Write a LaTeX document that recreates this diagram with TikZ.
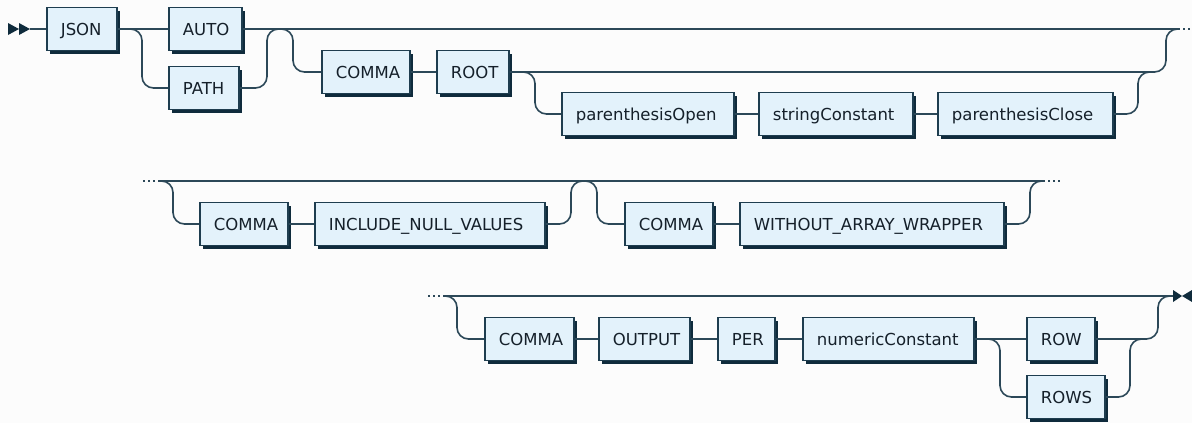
\documentclass[tikz,border=0pt]{standalone}
\usepackage{fontspec}
\setmainfont{DejaVu Sans}
\usetikzlibrary{shadows}
\definecolor{boxfill}{HTML}{E3F2FB}
\definecolor{boxline}{HTML}{1E3D4F}
\definecolor{shade}{HTML}{0F2B3C}
\definecolor{wirec}{HTML}{2C4858}
\definecolor{ink}{HTML}{15202A}
\definecolor{paper}{HTML}{FCFCFC}
% terminal box: #1 name, #2 left x, #3 centre y, #4 width, #5 label
\newcommand\termbox[5]{%
  \pgfmathsetmacro\boxtw{#4-28}%
  \node[term, text width=\boxtw pt] (#1) at (#2,#3) {#5};}
\begin{document}
\begin{tikzpicture}[x=1pt,y=-1pt,
  term/.style={draw=boxline, fill=boxfill, line width=1.8pt,
    minimum height=43pt, inner xsep=14pt, inner ysep=0pt,
    text height=12pt, text depth=0pt, align=left, anchor=west,
    font=\fontsize{16.5}{19}\selectfont, text=ink,
    drop shadow={shadow xshift=3.5pt, shadow yshift=-3.5pt, fill=shade, opacity=1}},
  wire/.style={draw=wirec, line width=1.6pt, rounded corners=11.5pt},
  dots/.style={draw=wirec, line width=1.6pt, dash pattern=on 2pt off 3pt},
  tipmark/.style={fill=shade, draw=none}]
\fill[paper] (0,0) rectangle (1192,423);
\useasboundingbox (0,0) rectangle (1192,423);

% ---- first line ----
\termbox{JSON}{46}{29}{70}{JSON}
\termbox{AUTO}{168}{29}{73}{AUTO}
\termbox{PATH}{168}{88}{70}{PATH}
\termbox{COMMAa}{321}{72}{88}{COMMA}
\termbox{ROOT}{436}{72}{72}{ROOT}
\termbox{pOpen}{561}{114}{172}{parenthesisOpen}
\termbox{strC}{758}{114}{154}{stringConstant}
\termbox{pClose}{937}{114}{175}{parenthesisClose}

\coordinate (r1start) at (30,29);
\coordinate (r1end) at (1178,29);
\fill[tipmark] (8,23) -- (19,29) -- (8,35) -- cycle;
\fill[tipmark] (19,23) -- (30,29) -- (19,35) -- cycle;
\draw[wire] (r1start) -- (JSON.west);
\draw[wire] (JSON.east) -- (AUTO.west);
\draw[wire] (JSON.east) -| (142,88) -- (PATH.west);
\draw[wire] (AUTO.east) -- (r1end);
\draw[wire] (PATH.east) -| (267,29) -| (293,72) -- (COMMAa.west);
\draw[wire] (COMMAa) -- (ROOT);
\draw[wire] (ROOT.east) -| (1166,29) -- (r1end);
\draw[wire] (ROOT.east) -| (535,114) -- (pOpen.west);
\draw[wire] (pOpen) -- (strC);
\draw[wire] (strC) -- (pClose);
\draw[wire] (pClose.east) -| (1138,72) -- (1155,72);
\draw[dots] (r1end) -- (1192,29);

% ---- second line ----
\termbox{COMMAb}{199}{224}{88}{COMMA}
\termbox{INV}{314}{224}{230}{INCLUDE\_NULL\_VALUES}
\termbox{COMMAc}{624}{224}{88}{COMMA}
\termbox{WAW}{739}{224}{264}{WITHOUT\_ARRAY\_WRAPPER}

\coordinate (r2start) at (160,181);
\coordinate (r2end) at (1043,181);
\draw[dots] (143,181) -- (r2start);
\draw[wire] (r2start) -- (r2end);
\draw[wire] (r2start) -| (173,224) -- (COMMAb.west);
\draw[wire] (COMMAb) -- (INV);
\draw[wire] (INV.east) -| (571,181) -| (597,224) -- (COMMAc.west);
\draw[wire] (COMMAc) -- (WAW);
\draw[wire] (WAW.east) -| (1030,181) -- (r2end);
\draw[dots] (r2end) -- (1060,181);

% ---- third line ----
\termbox{COMMAd}{484}{339}{89}{COMMA}
\termbox{OUTPUT}{598}{339}{91}{OUTPUT}
\termbox{PER}{717}{339}{57}{PER}
\termbox{numC}{802}{339}{171}{numericConstant}
\termbox{ROW}{1026}{339}{68}{ROW}
\termbox{ROWS}{1026}{397}{78}{ROWS}

\coordinate (r3start) at (443,296);
\coordinate (r3end) at (1173,296);
\draw[dots] (428,296) -- (r3start);
\draw[wire] (r3start) -- (r3end);
\draw[wire] (r3start) -| (457,339) -- (COMMAd.west);
\draw[wire] (COMMAd) -- (OUTPUT);
\draw[wire] (OUTPUT) -- (PER);
\draw[wire] (PER) -- (numC);
\draw[wire] (numC) -- (ROW);
\draw[wire] (numC.east) -| (1000,397) -- (ROWS.west);
\draw[wire] (ROWS.east) -| (1130,339) -- (1144,339);
\draw[wire] (ROW.east) -| (1158,296) -- (r3end);
\fill[tipmark] (1173,290) -- (1182,296) -- (1173,302) -- cycle;
\fill[tipmark] (1192,290) -- (1182,296) -- (1192,302) -- cycle;
\end{tikzpicture}
\end{document}
